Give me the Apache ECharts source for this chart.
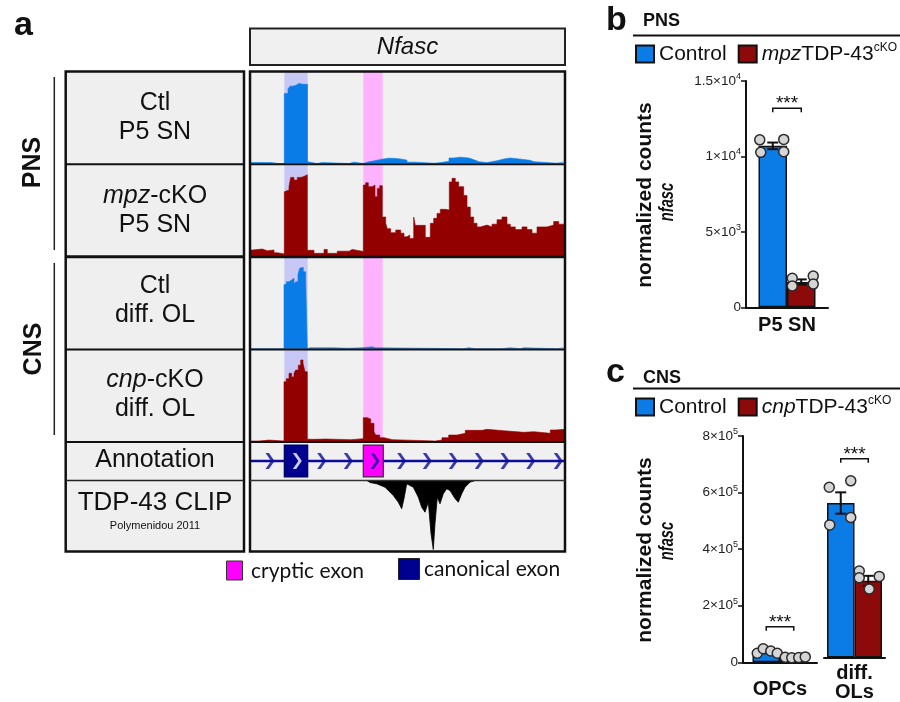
<!DOCTYPE html>
<html>
<head>
<meta charset="utf-8">
<script src="https://cdn.jsdelivr.net/npm/echarts@6/dist/echarts.min.js"></script>
<style>
  html, body { margin: 0; padding: 0; background: #ffffff; }
  #fig { width: 900px; height: 702px; }
</style>
</head>
<body>
<div id="fig"></div>
<script>
// ===== Panel a: RNA-seq coverage across the Nfasc locus (position in bins) =====
// Each track is a list of breakpoints: coverage value holds from pos[i] to pos[i+1].
const ctlPnsPos = [0, 22, 30, 32, 35.3, 39, 41, 44, 47, 50, 52, 54, 56, 58.5, 60, 68, 73, 100, 105, 114, 120, 127, 133, 140, 147, 153, 158, 166, 185, 192, 200, 205, 211, 220, 225, 230, 238, 248, 255, 261, 270, 281, 285, 308, 316];
const ctlPnsCov = [1, 0, 0.8, 0, 77, 82, 85, 86, 88, 89, 87, 88, 87, 2, 0, 1, 0, 1.5, 0, 1.8, 3.3, 4.8, 5.9, 5.5, 4.8, 3.7, 1.5, 0.3, 1, 2.5, 6, 7, 6, 4, 2, 1, 3, 5, 6, 5, 3.5, 2, 0.3, 2, 2];

const mpzPnsPos = [0, 3.3, 13.3, 18.3, 25, 28.3, 35.3, 37.3, 40, 41.7, 45, 48.3, 51.7, 55, 58.3, 65, 75, 78.3, 88.3, 100, 103.3, 114.3, 116.7, 119.3, 123.3, 126, 128.3, 130.7, 133.3, 136.7, 138.3, 141.7, 146.7, 151.7, 155, 158, 160.7, 164.7, 166.3, 176.3, 181.3, 184.7, 188, 191.3, 196.3, 200.3, 203, 206.3, 209.7, 214.7, 218, 221.3, 224.7, 228, 231.3, 238, 243, 248, 253, 258, 261.3, 266.3, 273, 278, 283, 288, 298, 304.7, 309.7, 316];
const mpzPnsCov = [6.3, 7.4, 5.5, 6.3, 3.3, 2, 71, 73, 77, 87, 84, 87, 88, 90, 6, 2.6, 7, 2.6, 5, 7, 4.8, 78.5, 81, 76.7, 78.5, 65.6, 74.8, 77.8, 43, 36, 30, 25.6, 28.5, 25, 21, 23, 19, 43, 33.7, 20.4, 36, 41.5, 47, 51.5, 50.7, 82, 86, 82, 76.7, 67, 54, 43, 36, 32, 34, 32, 35, 40, 43, 35, 32, 29, 32, 29, 25, 32, 34, 38, 35, 35];

const ctlOlPos = [0, 35, 37.3, 40, 42.7, 45, 46.7, 49, 50.7, 52.3, 54.3, 56.7, 58.3, 59.7, 61, 63, 65, 67, 78, 83, 100, 114, 123.3, 126, 214.7, 219.7, 226, 228, 253, 261, 271.3, 275, 308, 316];
const ctlOlCov = [0, 71, 74, 76, 78, 71.6, 74, 82, 89, 90, 85, 76, 0, 1, 0, 1, 0, 1, 1, 0.5, 1.1, 2.2, 1, 0, 1, 0, 0.8, 0, 1, 0, 1, 0, 1.2, 1.2];

const cnpOlPos = [0, 10, 20, 35, 37.3, 40, 42.7, 45, 46.7, 49.3, 51.7, 54, 56, 58.3, 60, 65, 76.7, 101.7, 114.3, 118.3, 121.7, 125, 126.7, 130.7, 135, 143.3, 186.3, 193, 199.7, 208, 216.3, 233, 238, 254.7, 274.7, 284.7, 301.3, 306.3, 316];
const cnpOlCov = [0, 1, 0, 65.7, 69, 75, 71, 75, 78.6, 84, 89.7, 86, 76.7, 2, 1.8, 2.2, 1.5, 2.6, 25.8, 24.4, 19.6, 10.3, 6.6, 3.7, 1.5, 0, 1.1, 3.7, 6.6, 8.5, 11.8, 12.9, 11.4, 9.6, 10.3, 8.5, 12.2, 12.9, 12.9];

// TDP-43 CLIP signal (drawn downward)
const clipPos = [0, 118, 121, 127.7, 136, 141, 144.3, 149.3, 152.7, 155, 157.7, 164.3, 169.3, 172.7, 176, 179.3, 182, 184.3, 186, 188.3, 191, 194.3, 197.7, 201, 206, 209.3, 212.7, 216, 221, 226, 316];
const clipDepth = [0, 0, -2, -3.3, -6.7, -11.7, -15, -21.7, -28.3, -18, -3.3, -6.7, -16.7, -26.7, -31.7, -21.7, -53, -69, -43, -16.7, -23.3, -13.3, -8.3, -10, -18, -21.7, -13.3, -6.7, -1.7, 0, 0];

// Gene model
const exonStart = [35.3, 114.3];
const exonEnd = [58.7, 134.3];
const exonKind = ['canonical', 'cryptic'];
const strandMarks = [21, 48.3, 72.7, 99.3, 126, 152.7, 178.3, 204.3, 230.3, 256, 281.7, 309.3];
const intronSpan = [0.5, 316];

// Highlighted exon windows
const hlStart = [35.3, 114.3];
const hlEnd = [58.7, 133.7];
const hlKind = ['canonical', 'cryptic'];

// ===== Panel b: PNS, normalized counts =====
const pnsGroups = ['P5 SN'];
const pnsCtlMean = [10700];
const pnsCtlSem = [220];
const pnsCtlReps = [11100, 11130, 10270, 10310];
const pnsKoMean = [1680];
const pnsKoSem = [170];
const pnsKoReps = [1920, 2070, 1410, 1540];
const pnsSigHeight = [13200];
const pnsTicks = [0, 5000, 10000, 15000];
const pnsTickBase = ['0', '5×10', '1×10', '1.5×10'];
const pnsTickExp = ['', '3', '4', '4'];

// ===== Panel c: CNS, normalized counts =====
const cnsGroups = ['OPCs', 'diff.\nOLs'];
const cnsCtlMean = [36000, 558000];
const cnsCtlSem = [4000, 38500];
const cnsKoMean = [18000, 277000];
const cnsKoSem = [1500, 18000];
const cnsCtlReps = [[32000, 48000, 40000, 32000], [615000, 638000, 479000, 506000]];
const cnsKoReps = [[18000, 16000, 17000, 19000], [312000, 293000, 247000, 288000]];
const cnsSigHeight = [126000, 718000];
const cnsTicks = [0, 200000, 400000, 600000, 800000];
const cnsTickBase = ['0', '2×10', '4×10', '6×10', '8×10'];
const cnsTickExp = ['', '5', '5', '5', '5'];

// ===== styling =====
const FONT = '"Liberation Sans", Arial, Helvetica, sans-serif';
const BLUE_TRK = '#0a7ce8';
const RED_TRK = '#930000';
const BLUE_BAR = '#0b7be6';
const RED_BAR = '#8d0a0a';
const NAVY = '#0c0c98';
const HL_COLOR = { canonical: '#c8c8f6', cryptic: '#ffb2ff' };
const EXON_COLOR = { canonical: '#000090', cryptic: '#ff00ff' };
const PANEL_BG = '#efefef';

const BAR_B = 28.5;
const BAR_C = 27.5;
// horizontal scatter of replicate dots (px from bar centre)
const JIT_B_CTL = [-13, 11, -12, 11];
const JIT_B_KO = [-9, 12, -9, 12];
const JIT_C_CTL = [[-9, -3, 4.5, 11], [-11.5, 10, -11, 10]];
const JIT_C_KO = [[-8.5, -2, 5, 11.5], [-9, 11, 1, -9]];

const zip = (xs, ys) => xs.map((x, i) => [x, ys[i]]);

// ----- track layout -----
const TRACK_L = 249, TRACK_W = 316;
const trackRows = [
  { top: 72.5, height: 91 },
  { top: 165.7, height: 90 },
  { top: 258.3, height: 90.4 },
  { top: 350.7, height: 90.3 }
];
const trackData = [
  { pos: ctlPnsPos, cov: ctlPnsCov, color: BLUE_TRK },
  { pos: mpzPnsPos, cov: mpzPnsCov, color: RED_TRK },
  { pos: ctlOlPos, cov: ctlOlCov, color: BLUE_TRK },
  { pos: cnpOlPos, cov: cnpOlCov, color: RED_TRK }
];

const grid = [
  ...trackRows.map(r => ({ left: TRACK_L, width: TRACK_W, top: r.top, height: r.height })),
  { left: TRACK_L, width: TRACK_W, top: 442, height: 38 },     // 4 annotation
  { left: TRACK_L, width: TRACK_W, top: 480.5, height: 70 },   // 5 CLIP
  { left: TRACK_L, width: TRACK_W, top: 71, height: 371 },     // 6 exon highlight band
  { left: 746, width: 82, top: 81, height: 226.3 },            // 7 panel b
  { left: 743, width: 74, top: 436, height: 226.3 },           // 8 panel c, OPCs
  { left: 824, width: 61, top: 436, height: 226.3 }            // 9 panel c, diff. OLs
];

const hiddenX = i => ({ gridIndex: i, type: 'value', min: 0, max: TRACK_W, show: false });
const hiddenY = (i, lo, hi) => ({ gridIndex: i, type: 'value', min: lo, max: hi, show: false });

const tickRich = {
  n: { fontSize: 13.5, fontFamily: FONT, color: '#222', lineHeight: 18 },
  s: { fontSize: 9, fontFamily: FONT, color: '#222', verticalAlign: 'top', lineHeight: 10 }
};
function tickFormatter(ticks, base, exp) {
  return v => {
    const i = ticks.indexOf(v);
    if (i < 0) return '';
    return '{n|' + base[i] + '}' + (exp[i] ? '{s|' + exp[i] + '}' : '');
  };
}
function countAxis(gi, max, interval, ticks, base, exp) {
  return {
    gridIndex: gi, type: 'value', min: 0, max: max, interval: interval,
    axisLine: { show: true, lineStyle: { color: '#111', width: 2 } },
    axisTick: { show: true, length: 5, lineStyle: { color: '#111', width: 1.5 } },
    splitLine: { show: false },
    axisLabel: { margin: 5, formatter: tickFormatter(ticks, base, exp), rich: tickRich }
  };
}
function groupAxis(gi, cats, margin) {
  return {
    gridIndex: gi, type: 'category', data: cats,
    axisLine: { show: true, lineStyle: { color: '#111', width: 2 } },
    axisTick: { show: false },
    axisLabel: { margin: margin, fontSize: 20, fontWeight: 'bold', fontFamily: FONT, color: '#111', lineHeight: 19 }
  };
}

const xAxis = [0, 1, 2, 3, 4, 5, 6].map(hiddenX).concat([
  groupAxis(7, pnsGroups, 9),
  groupAxis(8, [cnsGroups[0]], 18),
  groupAxis(9, [cnsGroups[1]], 6)
]);
const yAxis = [
  hiddenY(0, 0, 100), hiddenY(1, 0, 100), hiddenY(2, 0, 100), hiddenY(3, 0, 100),
  hiddenY(4, -1, 1), hiddenY(5, -70, 0), hiddenY(6, 0, 1),
  countAxis(7, 15000, 5000, pnsTicks, pnsTickBase, pnsTickExp),
  countAxis(8, 800000, 200000, cnsTicks, cnsTickBase, cnsTickExp),
  Object.assign(countAxis(9, 800000, 200000, cnsTicks, cnsTickBase, cnsTickExp), { show: false })
];

// ----- renderers for bar-chart overlays -----
const CAP = 5.5;
function errorBarRenderer(side, halfW) {
  return (params, api) => {
    const cat = api.value(0), m = api.value(1), e = api.value(2);
    const c = api.coord([cat, m]);
    const hi = api.coord([cat, m + e]);
    const lo = api.coord([cat, m - e]);
    const x = c[0] + side * halfW;
    const st = { stroke: '#111', lineWidth: 2 };
    return {
      type: 'group', children: [
        { type: 'line', shape: { x1: x, y1: hi[1], x2: x, y2: lo[1] }, style: st },
        { type: 'line', shape: { x1: x - CAP, y1: hi[1], x2: x + CAP, y2: hi[1] }, style: st },
        { type: 'line', shape: { x1: x - CAP, y1: lo[1], x2: x + CAP, y2: lo[1] }, style: st }
      ]
    };
  };
}
function dotRenderer(side, halfW, jitter) {
  return (params, api) => {
    const p = api.coord([api.value(0), api.value(1)]);
    const k = api.value(2);
    return {
      type: 'circle',
      shape: { cx: p[0] + side * halfW + jitter[k], cy: p[1], r: 5 },
      style: { fill: '#d5d5d5', stroke: '#2a2a2a', lineWidth: 1.5 }
    };
  };
}
function bracketRenderer(halfW) {
  return (params, api) => {
    const p = api.coord([api.value(0), api.value(1)]);
    const x1 = p[0] - halfW, x2 = p[0] + halfW, y = p[1];
    return {
      type: 'group', children: [
        { type: 'polyline', shape: { points: [[x1, y + 4], [x1, y], [x2, y], [x2, y + 4]] },
          style: { stroke: '#111', lineWidth: 1.5, fill: null } },
        { type: 'text', x: (x1 + x2) / 2, y: y - 4,
          style: { text: '***', fontSize: 19, fontFamily: FONT, fill: '#111', align: 'center', verticalAlign: 'middle' } }
      ]
    };
  };
}
function custom(gi, data, renderItem, z) {
  return { type: 'custom', xAxisIndex: gi, yAxisIndex: gi, data: data, renderItem: renderItem,
           encode: { x: 0, y: 1 }, z: z, silent: true, clip: false };
}
function bar(gi, name, value, color, width) {
  return { type: 'bar', name: name, xAxisIndex: gi, yAxisIndex: gi, data: [value], barWidth: width, barGap: '0%',
           itemStyle: { color: color, borderColor: '#111', borderWidth: 1.5 }, z: 2, silent: true };
}

const series = [];

// exon highlight columns behind the coverage tracks
series.push({
  type: 'line', xAxisIndex: 6, yAxisIndex: 6, data: [[0, 0]], symbol: 'none', z: 1, silent: true,
  lineStyle: { opacity: 0 },
  markArea: {
    silent: true,
    data: hlStart.map((s, i) => [
      { xAxis: s, itemStyle: { color: HL_COLOR[hlKind[i]], opacity: 1 } },
      { xAxis: hlEnd[i] }
    ])
  }
});

// coverage tracks
trackData.forEach((t, i) => {
  series.push({
    type: 'line', xAxisIndex: i, yAxisIndex: i, data: zip(t.pos, t.cov), step: 'end',
    symbol: 'none', silent: true, z: 3,
    lineStyle: { color: t.color, width: 0.6 },
    areaStyle: { color: t.color, opacity: 1 }
  });
});

// gene annotation: intron line, exons, strand chevrons
series.push({
  type: 'line', xAxisIndex: 4, yAxisIndex: 4, data: intronSpan.map(x => [x, 0]), symbol: 'none',
  silent: true, z: 3, lineStyle: { color: NAVY, width: 2.5 }
});
series.push(custom(4, exonStart.map((s, i) => [s, 0, exonEnd[i], i]), (params, api) => {
  const i = api.value(3);
  const a = api.coord([api.value(0), 0.84]);
  const b = api.coord([api.value(2), -0.84]);
  const kind = exonKind[i];
  return {
    type: 'rect', shape: { x: a[0], y: a[1], width: b[0] - a[0], height: b[1] - a[1] },
    style: { fill: EXON_COLOR[kind], stroke: kind === 'cryptic' ? '#333' : '#000060', lineWidth: 1.2 }
  };
}, 4));
const inCanonical = x => exonStart.some((s, i) => exonKind[i] === 'canonical' && x >= s && x <= exonEnd[i]);
series.push({
  type: 'scatter', xAxisIndex: 4, yAxisIndex: 4, data: strandMarks.map(x => [x, 0]), silent: true, z: 5,
  symbol: 'path://M0,0 L4.2,0 L11,8 L4.2,16 L0,16 L6.8,8 Z', symbolSize: [9, 16],
  itemStyle: { color: p => inCanonical(p.value[0]) ? '#ffffff' : NAVY }
});

// CLIP signal
series.push({
  type: 'line', xAxisIndex: 5, yAxisIndex: 5, data: zip(clipPos, clipDepth), symbol: 'none',
  silent: true, z: 3, lineStyle: { color: '#000', width: 0.8 }, areaStyle: { color: '#000', opacity: 1 }
});

// panel b
series.push(bar(7, 'Control', pnsCtlMean[0], BLUE_BAR, BAR_B));
series.push(bar(7, 'mpzTDP-43cKO', pnsKoMean[0], RED_BAR, BAR_B));
series.push(custom(7, [[0, pnsCtlMean[0], pnsCtlSem[0]]], errorBarRenderer(-1, BAR_B / 2), 4));
series.push(custom(7, [[0, pnsKoMean[0], pnsKoSem[0]]], errorBarRenderer(1, BAR_B / 2), 4));
series.push(custom(7, pnsCtlReps.map((v, k) => [0, v, k]), dotRenderer(-1, BAR_B / 2, JIT_B_CTL), 5));
series.push(custom(7, pnsKoReps.map((v, k) => [0, v, k]), dotRenderer(1, BAR_B / 2, JIT_B_KO), 5));
series.push(custom(7, [[0, pnsSigHeight[0]]], bracketRenderer(BAR_B / 2), 5));

// panel c (one grid per cell type)
[8, 9].forEach((gi, g) => {
  series.push(bar(gi, 'Control', cnsCtlMean[g], BLUE_BAR, BAR_C));
  series.push(bar(gi, 'cnpTDP-43cKO', cnsKoMean[g], RED_BAR, BAR_C));
  series.push(custom(gi, [[0, cnsCtlMean[g], cnsCtlSem[g]]], errorBarRenderer(-1, BAR_C / 2), 4));
  series.push(custom(gi, [[0, cnsKoMean[g], cnsKoSem[g]]], errorBarRenderer(1, BAR_C / 2), 4));
  series.push(custom(gi, cnsCtlReps[g].map((v, k) => [0, v, k]), dotRenderer(-1, BAR_C / 2, JIT_C_CTL[g]), 5));
  series.push(custom(gi, cnsKoReps[g].map((v, k) => [0, v, k]), dotRenderer(1, BAR_C / 2, JIT_C_KO[g]), 5));
  series.push(custom(gi, [[0, cnsSigHeight[g]]], bracketRenderer(BAR_C / 2), 5));
});

// ----- legends for b and c -----
const legendRich = {
  t: { fontSize: 21, fontFamily: FONT, color: '#111', lineHeight: 24 },
  i: { fontSize: 21, fontFamily: FONT, fontStyle: 'italic', color: '#111', lineHeight: 24 },
  s: { fontSize: 12, fontFamily: FONT, color: '#111', verticalAlign: 'top', lineHeight: 14 }
};
function legendText(name) {
  const m = /^(\w+?)TDP-43cKO$/.exec(name);
  return m ? '{i|' + m[1] + '}{t|TDP-43}{s|cKO}' : '{t|' + name + '}';
}
function legendAt(top, names) {
  return {
    left: 635, top: top, width: 300, padding: 0, orient: 'horizontal',
    icon: 'rect', itemWidth: 18, itemHeight: 17, itemGap: 11,
    selectedMode: false, data: names, formatter: legendText,
    textStyle: { rich: legendRich }
  };
}

// ----- frames, track labels and panel headings -----
const SEP_Y = [164.3, 256.7, 349.5, 442, 480.5];
const SEP_W = [2, 3, 2, 2, 1.5];
const txt = (x, y, text, o) => ({
  type: 'text', x: x, y: y, z: 60, silent: true,
  style: Object.assign({ text: text, fontFamily: FONT, fontSize: 25, fill: '#111', align: 'center', verticalAlign: 'middle' }, o || {})
});
const hline = (x1, x2, y, w, c, z) => ({ type: 'line', z: z, silent: true, shape: { x1: x1, y1: y, x2: x2, y2: y }, style: { stroke: c || '#111', lineWidth: w } });
const vline = (x, y1, y2, w) => ({ type: 'line', z: 60, silent: true, shape: { x1: x, y1: y1, x2: x, y2: y2 }, style: { stroke: '#222', lineWidth: w } });
const italicRich = { i: { fontStyle: 'italic', fontSize: 25, fontFamily: FONT, fill: '#111', lineHeight: 29 } };
const vert = el => Object.assign(el, { rotation: Math.PI / 2 });

const graphic = [
  // backgrounds
  { type: 'rect', z: -10, silent: true, shape: { x: 65.7, y: 71.5, width: 178.3, height: 480 }, style: { fill: PANEL_BG } },
  { type: 'rect', z: -10, silent: true, shape: { x: 250, y: 71.5, width: 315, height: 480 }, style: { fill: '#f0f0f0' } },
  { type: 'rect', z: 50, silent: true, shape: { x: 250, y: 28.5, width: 315, height: 36.5 }, style: { fill: '#f0f0f0', stroke: '#222', lineWidth: 2 } },
  // frames
  { type: 'rect', z: 50, silent: true, shape: { x: 65.7, y: 71.5, width: 178.3, height: 480 }, style: { fill: null, stroke: '#111', lineWidth: 2.5 } },
  { type: 'rect', z: 50, silent: true, shape: { x: 250, y: 71.5, width: 315, height: 480 }, style: { fill: null, stroke: '#111', lineWidth: 2.5 } },
  ...SEP_Y.map((y, i) => hline(65.7, 244, y, SEP_W[i], i === 4 ? '#222' : '#111', 50)),
  ...SEP_Y.map((y, i) => hline(250, 565, y, SEP_W[i], i === 4 ? '#333' : '#111', 50)),
  // group brackets
  vline(54.3, 77, 250, 1.5),
  vline(54.3, 263, 435, 1.5),
  vert(txt(33, 162.5, 'PNS', { fontWeight: 'bold', fontSize: 25 })),
  vert(txt(34, 349, 'CNS', { fontWeight: 'bold', fontSize: 25 })),
  // panel letters
  txt(14, 26, 'a', { fontWeight: 'bold', fontSize: 34, align: 'left' }),
  txt(606, 21, 'b', { fontWeight: 'bold', fontSize: 34, align: 'left' }),
  txt(606, 373, 'c', { fontWeight: 'bold', fontSize: 34, align: 'left' }),
  // gene title
  txt(407.5, 47, 'Nfasc', { fontStyle: 'italic', fontSize: 24 }),
  // track labels
  txt(155, 118, 'Ctl\nP5 SN', { lineHeight: 29 }),
  txt(155, 211, '{i|mpz}-cKO\nP5 SN', { lineHeight: 29, rich: italicRich }),
  txt(155, 301, 'Ctl\ndiff. OL', { lineHeight: 29 }),
  txt(155, 394.5, '{i|cnp}-cKO\ndiff. OL', { lineHeight: 29, rich: italicRich }),
  txt(155, 460.5, 'Annotation'),
  txt(155, 502.5, 'TDP-43 CLIP', { fontSize: 26 }),
  txt(155, 525.5, 'Polymenidou 2011', { fontSize: 11 }),
  // exon key
  { type: 'rect', z: 60, silent: true, shape: { x: 226.5, y: 561, width: 16, height: 19 }, style: { fill: EXON_COLOR.cryptic, stroke: '#333', lineWidth: 1 } },
  txt(251, 571, 'cryptic exon', { align: 'left', fontFamily: 'Lato, "Open Sans", sans-serif', fontSize: 21 }),
  { type: 'rect', z: 60, silent: true, shape: { x: 398.5, y: 558.5, width: 21, height: 21 }, style: { fill: EXON_COLOR.canonical, stroke: '#222', lineWidth: 1 } },
  txt(424, 569, 'canonical exon', { align: 'left', fontFamily: 'Lato, "Open Sans", sans-serif', fontSize: 21 }),
  // panel b / c headings
  txt(643, 21.5, 'PNS', { fontWeight: 'bold', fontSize: 18, align: 'left' }),
  hline(633, 900, 35.5, 2, '#111', 60),
  txt(643, 378.5, 'CNS', { fontWeight: 'bold', fontSize: 18, align: 'left' }),
  hline(633, 900, 388.5, 2, '#111', 60),
  // y-axis titles
  vert(txt(645, 195, 'normalized counts', { fontWeight: 'bold', fontSize: 21 })),
  Object.assign(vert(txt(667, 202, 'nfasc', { fontWeight: 'bold', fontStyle: 'italic', fontSize: 21 })), { scaleX: 0.7 }),
  vert(txt(645, 550, 'normalized counts', { fontWeight: 'bold', fontSize: 21 })),
  Object.assign(vert(txt(667, 541, 'nfasc', { fontWeight: 'bold', fontStyle: 'italic', fontSize: 21 })), { scaleX: 0.7 })
];

const chart = echarts.init(document.getElementById('fig'), null, { renderer: 'canvas' });
chart.setOption({
  animation: false,
  backgroundColor: '#ffffff',
  textStyle: { fontFamily: FONT },
  grid: grid,
  xAxis: xAxis,
  yAxis: yAxis,
  legend: [legendAt(42, ['Control', 'mpzTDP-43cKO']), legendAt(395, ['Control', 'cnpTDP-43cKO'])],
  graphic: { elements: graphic },
  series: series
});
</script>
</body>
</html>
